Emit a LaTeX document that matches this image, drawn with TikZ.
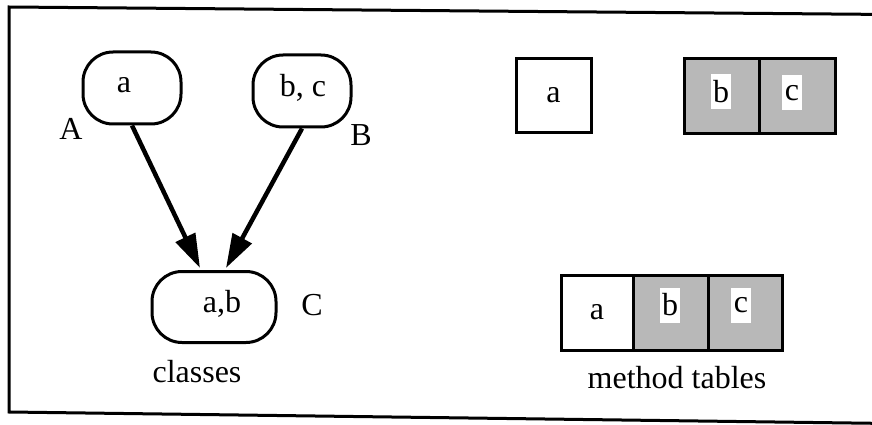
\documentclass[tikz,border=0pt]{standalone}
\usepackage{fontspec}
\setmainfont{Liberation Serif}
\usetikzlibrary{arrows.meta,calc}
\begin{document}
\begin{tikzpicture}[x=1pt,y=-1pt,
  txt/.style={font=\fontsize{32}{38}\selectfont, inner sep=0pt},
  cls/.style={draw, line width=3pt, rounded corners=30pt, inner sep=0pt},
  cell/.style={draw, line width=3pt, inner sep=0pt, minimum height=74pt},
  shade/.style={fill=black!28},
  patch/.style={txt, fill=white, minimum width=20pt, minimum height=35pt},
  inherit/.style={line width=4.5pt, -{Triangle[length=34pt,width=21pt]}}]
\useasboundingbox (0,0) rectangle (872,425);
\begin{scope}
\clip (0,0) rectangle (872,425);
\draw[line width=3pt] (890,14.5) -- (9,7) -- (9,412) -- (890,423.5);
\end{scope}
% classes
\node[cls, minimum width=98pt, minimum height=72pt] (A) at (132,88) {};
\node[cls, minimum width=98pt, minimum height=72pt] (B) at (302,91) {};
\node[cls, minimum width=124pt, minimum height=71pt] (C) at (214,307) {};
\node[txt] (ta) at (124,85) {a};
\node[txt] (tbc) at (303,88) {b, c};
\node[txt] (tab) at (222,304) {a,b};
\node[txt] (lA) at (71,129) {A};
\node[txt] (lB) at (361,135) {B};
\node[txt] (lC) at (312,305) {C};
\node[txt, anchor=base] (classes) at (197,382) {classes};
\draw[inherit] (A.south) -- ($(C.north)+(-14,-2)$);
\draw[inherit] (B.south) -- ($(C.north)+(12,-2)$);
% method tables
\node[cell, txt, minimum width=75pt, minimum height=73pt] (ma) at (553.5,95.5) {a};
\node[cell, shade, minimum width=75pt] (mb) at (721.5,96) {};
\node[cell, shade, minimum width=76pt] (mc) at (797,96) {};
\node[patch] (pb) at (721,92) {b};
\node[patch] (pc) at (792,93) {c};
\node[cell, txt, minimum width=72pt, minimum height=75pt] (na) at (597,312.5) {a};
\node[cell, shade, minimum width=75pt, minimum height=75pt] (nb) at (670.5,312.5) {};
\node[cell, shade, minimum width=74pt, minimum height=75pt] (nc) at (745,312.5) {};
\node[patch] (qb) at (670,305) {b};
\node[patch] (qc) at (741,305) {c};
\node[txt, anchor=base] (mt) at (677,388) {method tables};
\end{tikzpicture}
\end{document}
